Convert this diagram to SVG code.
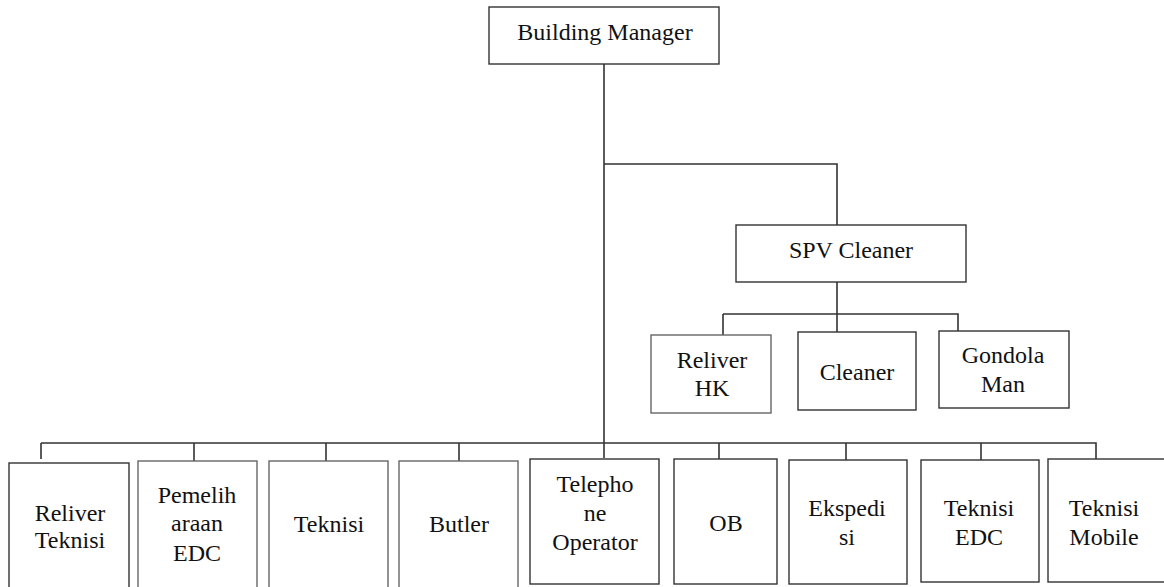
<svg xmlns="http://www.w3.org/2000/svg" width="1164" height="587" viewBox="0 0 1164 587">
<style>
.box{fill:#fff;stroke:#333;stroke-width:1.4}
.lt{stroke:#666}
.con{fill:none;stroke:#333;stroke-width:1.6}
text{font-size:24px;fill:#111;text-anchor:middle}
</style>
<rect width="1164" height="587" fill="#fff"/>
<g id="connectors">
<path class="con" d="M604 64V458"/>
<path class="con" d="M604 164H837V225"/>
<path class="con" d="M837 282V332"/>
<path class="con" d="M723 314H958V331"/>
<path class="con" d="M723 314V335"/>
<path class="con" d="M41 443H1096V459"/>
<path class="con" d="M41 443V459"/>
<path class="con" d="M194 443V461"/>
<path class="con" d="M326 443V461"/>
<path class="con" d="M459 443V461"/>
<path class="con" d="M719 443V459"/>
<path class="con" d="M846 443V460"/>
<path class="con" d="M981 443V460"/>
</g>
<g id="nodes" font-family="Liberation Serif, DejaVu Serif, serif">
<g id="building-manager">
<rect class="box" x="489" y="7" width="230" height="57"/>
<text x="605" y="40">Building Manager</text>
</g>
<g id="spv-cleaner">
<rect class="box" x="736" y="225" width="230" height="57"/>
<text x="851" y="258">SPV Cleaner</text>
</g>
<g id="reliver-hk">
<rect class="box lt" x="651" y="335" width="120" height="78"/>
<text x="712" y="368">Reliver</text>
<text x="712" y="396">HK</text>
</g>
<g id="cleaner">
<rect class="box" x="798" y="332" width="118" height="78"/>
<text x="857" y="380">Cleaner</text>
</g>
<g id="gondola-man">
<rect class="box" x="939" y="331" width="130" height="77"/>
<text x="1003" y="363">Gondola</text>
<text x="1003" y="392">Man</text>
</g>
<g id="reliver-teknisi">
<rect class="box" x="9" y="463" width="120" height="130"/>
<text x="70" y="521">Reliver</text>
<text x="70" y="548">Teknisi</text>
</g>
<g id="pemeliharaan-edc">
<rect class="box lt" x="138" y="461" width="119" height="130"/>
<text x="197" y="503">Pemelih</text>
<text x="197" y="531">araan</text>
<text x="197" y="561">EDC</text>
</g>
<g id="teknisi">
<rect class="box lt" x="269" y="461" width="119" height="130"/>
<text x="329" y="532">Teknisi</text>
</g>
<g id="butler">
<rect class="box lt" x="399" y="461" width="119" height="130"/>
<text x="459" y="532">Butler</text>
</g>
<g id="telephone-operator">
<rect class="box" x="530" y="459" width="129" height="125"/>
<text x="595" y="492">Telepho</text>
<text x="595" y="521">ne</text>
<text x="595" y="550">Operator</text>
</g>
<g id="ob">
<rect class="box" x="674" y="459" width="103" height="125"/>
<text x="726" y="531">OB</text>
</g>
<g id="ekspedisi">
<rect class="box" x="789" y="460" width="118" height="124"/>
<text x="847" y="516">Ekspedi</text>
<text x="847" y="545">si</text>
</g>
<g id="teknisi-edc">
<rect class="box" x="921" y="460" width="118" height="122"/>
<text x="979" y="516">Teknisi</text>
<text x="979" y="545">EDC</text>
</g>
<g id="teknisi-mobile">
<rect class="box" x="1048" y="459" width="130" height="123"/>
<text x="1104" y="516">Teknisi</text>
<text x="1104" y="545">Mobile</text>
</g>
</g>
</svg>
